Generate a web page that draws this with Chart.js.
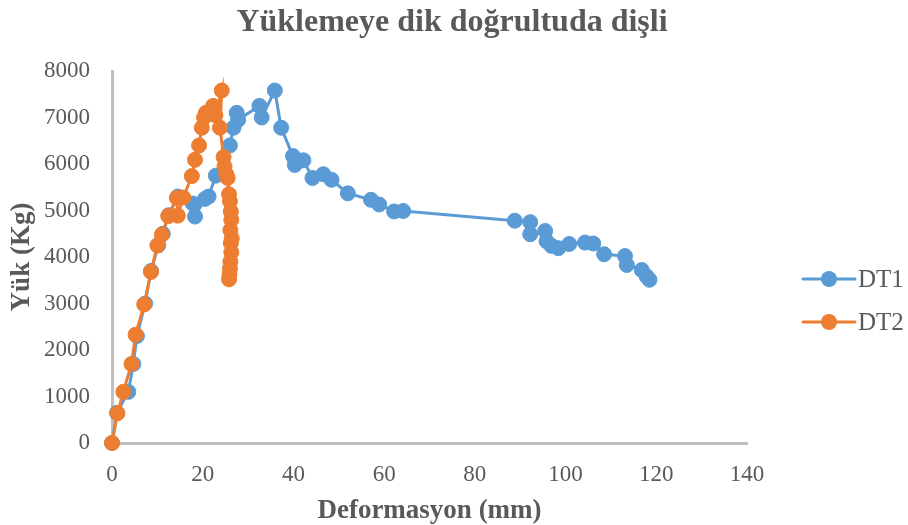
<!DOCTYPE html>
<html>
<head>
<meta charset="utf-8">
<script src="https://cdn.jsdelivr.net/npm/chart.js@4/dist/chart.umd.min.js"></script>
<style>
  html, body { margin: 0; padding: 0; background: #fff; }
  #wrap { width: 908px; height: 525px; }
</style>
</head>
<body>
<div id="wrap"><canvas id="grafico" width="908" height="525"></canvas></div>
<script>
// Dados
const chartTitle = 'Yüklemeye dik doğrultuda dişli';
const xTitle = 'Deformasyon (mm)';
const yTitle = 'Yük (Kg)';
const seriesNames = ['DT1', 'DT2'];

const dt1X = [0, 1.1, 3.6, 4.7, 5.5, 7.3, 8.6, 10.2, 11.2, 12.5, 14.5, 17.8, 18.3, 20.5, 21.3, 22.9, 26, 26.8, 27.5, 27.8,
  32.5, 33, 35.9, 37.3, 39.9, 40.3, 42.2, 44.2, 46.6, 48.4, 52, 57.1, 58.9, 62.2, 64.2,
  88.8, 92.2, 92.2, 95.5, 95.8, 96.9, 98.4, 100.8, 104.3, 106.1, 108.5, 113.1, 113.5, 116.8, 117.9, 118.5];
const dt1Y = [0, 650, 1100, 1700, 2300, 3000, 3700, 4250, 4500, 4900, 5300, 5150, 4870, 5250, 5300, 5750, 6400, 6780, 7100, 6950,
  7250, 7000, 7580, 6780, 6170, 5980, 6080, 5700, 5780, 5660, 5370, 5230, 5130, 4980, 4990,
  4780, 4750, 4490, 4560, 4340, 4240, 4190, 4280, 4310, 4290, 4060, 4020, 3830, 3720, 3580, 3510];

const dt2X = [0, 1.2, 2.5, 4.3, 5.2, 7.1, 8.6, 10, 11, 12.4, 14.3, 14.5, 15.7, 17.6, 18.3, 19.2, 19.8, 20.3, 20.7, 22.3, 22.8,
  24.2, 23.8, 24.6, 24.8, 25.2, 25.5, 25.8, 26, 26.2, 26.3, 26.1, 26.4, 26.2, 26.3, 26.1, 26, 25.9, 25.8];
const dt2Y = [0, 640, 1100, 1700, 2330, 2980, 3680, 4250, 4480, 4880, 5270, 4890, 5280, 5740, 6090, 6400, 6780, 7000, 7100, 7250, 7050,
  7580, 6780, 6150, 5950, 5780, 5700, 5350, 5200, 4980, 4800, 4580, 4400, 4300, 4100, 3900, 3750, 3620, 3520];

const xTicks = [0, 20, 40, 60, 80, 100, 120, 140];
const yTicks = [0, 1000, 2000, 3000, 4000, 5000, 6000, 7000, 8000];

const serif = "'Liberation Serif', 'Times New Roman', serif";
const cinza = '#595959';

function pontos(xs, ys) {
  return xs.map((x, i) => ({ x: x, y: ys[i] }));
}

// Título e legenda desenhados à mão (posição igual ao original)
const tituloLegenda = {
  id: 'tituloLegenda',
  afterDraw(chart) {
    const c = chart.ctx;
    c.save();
    c.fillStyle = cinza;
    c.font = 'bold 32px ' + serif;
    c.textAlign = 'center';
    c.textBaseline = 'middle';
    c.fillText(chartTitle, 452, 23);
    c.restore();

    [0, 1].forEach((i) => {
      const ds = chart.data.datasets.find(d => d.label === seriesNames[i]);
      const y = 279 + i * 43;
      c.save();
      c.strokeStyle = ds.borderColor;
      c.lineWidth = 3;
      c.lineCap = 'round';
      c.beginPath();
      c.moveTo(803, y);
      c.lineTo(855, y);
      c.stroke();
      c.fillStyle = ds.borderColor;
      c.beginPath();
      c.arc(829, y, 8, 0, Math.PI * 2);
      c.fill();
      c.fillStyle = cinza;
      c.font = '25px ' + serif;
      c.textBaseline = 'middle';
      c.textAlign = 'left';
      c.fillText(ds.label, 858, y + 1);
      c.restore();
    });
  }
};

const ctx = document.getElementById('grafico').getContext('2d');
new Chart(ctx, {
  type: 'line',
  data: {
    datasets: [
      {
        label: seriesNames[0],
        data: pontos(dt1X, dt1Y),
        borderColor: '#5B9BD5',
        backgroundColor: '#5B9BD5',
        borderWidth: 3,
        pointRadius: 7.5,
        pointBorderWidth: 1,
        pointHoverRadius: 7.5,
        clip: false,
        order: 2
      },
      {
        label: seriesNames[1],
        data: pontos(dt2X, dt2Y),
        borderColor: '#ED7D31',
        backgroundColor: '#ED7D31',
        borderWidth: 3,
        pointRadius: 7.5,
        pointBorderWidth: 1,
        pointHoverRadius: 7.5,
        clip: false,
        order: 1
      }
    ]
  },
  options: {
    responsive: false,
    animation: false,
    layout: { padding: { left: 0, right: 161, top: 71, bottom: 0 } },
    plugins: {
      legend: { display: false },
      tooltip: { enabled: false },
      title: { display: false }
    },
    scales: {
      x: {
        type: 'linear',
        min: 0,
        max: 140,
        afterBuildTicks: (s) => { s.ticks = xTicks.map(v => ({ value: v })); },
        afterFit: (s) => { s.height = 82; },
        grid: { display: false },
        border: { display: true, color: '#BFBFBF', width: 3 },
        ticks: { color: cinza, font: { family: serif, size: 23 }, padding: 10, callback: (v) => String(v) },
        title: {
          display: true,
          text: xTitle,
          color: cinza,
          font: { family: serif, size: 27, weight: 'bold', lineHeight: 1 },
          padding: { top: 0, bottom: 0 }
        }
      },
      y: {
        type: 'linear',
        min: 0,
        max: 8000,
        afterBuildTicks: (s) => { s.ticks = yTicks.map(v => ({ value: v })); },
        afterFit: (s) => { s.width = 112; },
        grid: { display: false },
        border: { display: true, color: '#BFBFBF', width: 3 },
        ticks: { color: cinza, font: { family: serif, size: 23 }, padding: 14, callback: (v) => String(v) },
        title: {
          display: true,
          text: yTitle,
          color: cinza,
          font: { family: serif, size: 27, weight: 'bold', lineHeight: 1 },
          padding: { top: 9, bottom: 0 }
        }
      }
    }
  },
  plugins: [tituloLegenda]
});
</script>
</body>
</html>
